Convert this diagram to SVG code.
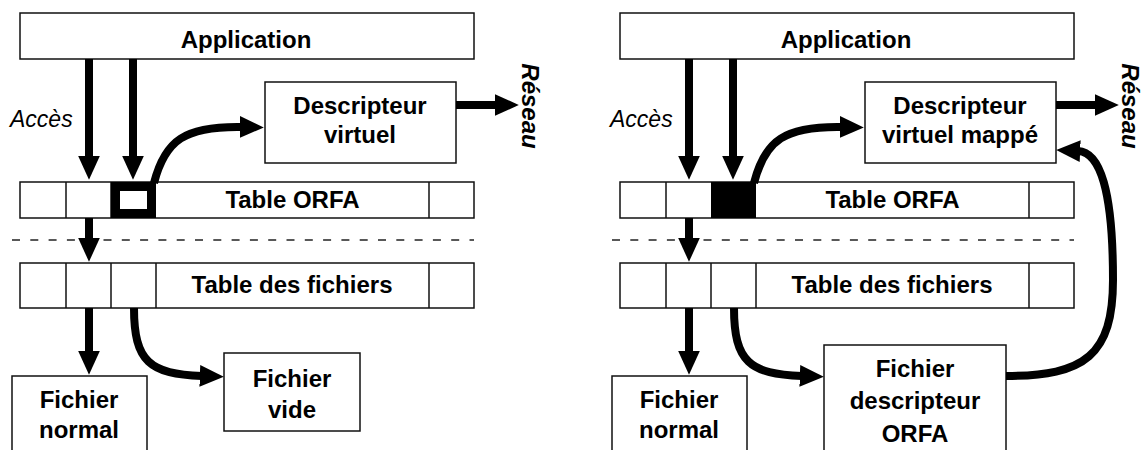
<svg xmlns="http://www.w3.org/2000/svg" width="1142" height="450" viewBox="0 0 1142 450">
<style>
.box{fill:#fff;stroke:#111;stroke-width:1.5}
.b{font-family:"Liberation Sans",Arial,sans-serif;font-weight:bold;font-size:24px;text-anchor:middle;fill:#000}
.it{font-family:"Liberation Sans",Arial,sans-serif;font-style:italic;font-size:23px;fill:#000}
.bi{font-family:"Liberation Sans",Arial,sans-serif;font-style:italic;font-weight:bold;font-size:24px;text-anchor:middle;fill:#000}
.arr{fill:none;stroke:#000;stroke-width:8;marker-end:url(#ah)}
.dash{stroke:#222;stroke-width:1.3;stroke-dasharray:8 10.3}
</style>
<defs>
<marker id="ah" markerUnits="userSpaceOnUse" markerWidth="24" markerHeight="22" viewBox="0 0 22 20" refX="2" refY="10" orient="auto"><path d="M0,0 L22,10 L0,20 z" fill="#000"/></marker>
</defs>

<g id="left">
<g id="app-l"><rect class="box" x="20" y="13" width="454" height="46"/><text class="b" x="246" y="48">Application</text></g>
<g id="desc-l"><rect class="box" x="265" y="82" width="191" height="81"/><text class="b" x="360" y="114">Descripteur</text><text class="b" x="360" y="143">virtuel</text></g>
<g id="reseau-l"><text class="bi" transform="translate(522,106) rotate(90)">Réseau</text></g>
<g id="acces-l"><text class="it" x="10" y="127">Accès</text></g>
<g id="orfa-l">
<rect class="box" x="20" y="182" width="454" height="36"/>
<line x1="66" y1="182" x2="66" y2="218" stroke="#111" stroke-width="1.5"/>
<line x1="111" y1="182" x2="111" y2="218" stroke="#111" stroke-width="1.5"/>
<line x1="429" y1="182" x2="429" y2="218" stroke="#111" stroke-width="1.5"/>
<rect x="115.5" y="186.5" width="36" height="27" fill="#fff" stroke="#000" stroke-width="9"/>
<text class="b" x="292.5" y="208">Table ORFA</text>
</g>
<line class="dash" x1="12" y1="240" x2="474" y2="240"/>
<g id="fich-l">
<rect class="box" x="20" y="263" width="454" height="45"/>
<line x1="66" y1="263" x2="66" y2="308" stroke="#111" stroke-width="1.5"/>
<line x1="111" y1="263" x2="111" y2="308" stroke="#111" stroke-width="1.5"/>
<line x1="156" y1="263" x2="156" y2="308" stroke="#111" stroke-width="1.5"/>
<line x1="429" y1="263" x2="429" y2="308" stroke="#111" stroke-width="1.5"/>
<text class="b" x="292" y="293">Table des fichiers</text>
</g>
<g id="normal-l"><rect class="box" x="12" y="376" width="135" height="100"/><text class="b" x="79" y="408">Fichier</text><text class="b" x="79" y="438">normal</text></g>
<g id="vide-l"><rect class="box" x="224" y="353" width="136" height="78"/><text class="b" x="292" y="387">Fichier</text><text class="b" x="292" y="418">vide</text></g>
</g>

<g id="right">
<g id="app-r"><rect class="box" x="620" y="13" width="454" height="46"/><text class="b" x="846" y="48">Application</text></g>
<g id="desc-r"><rect class="box" x="865" y="82" width="191" height="81"/><text class="b" x="960" y="114">Descripteur</text><text class="b" x="960" y="143">virtuel mappé</text></g>
<g id="reseau-r"><text class="bi" transform="translate(1122,106) rotate(90)">Réseau</text></g>
<g id="acces-r"><text class="it" x="610" y="127">Accès</text></g>
<g id="orfa-r">
<rect class="box" x="620" y="182" width="454" height="36"/>
<line x1="666" y1="182" x2="666" y2="218" stroke="#111" stroke-width="1.5"/>
<line x1="1029" y1="182" x2="1029" y2="218" stroke="#111" stroke-width="1.5"/>
<rect x="711" y="182" width="45" height="36" fill="#000"/>
<text class="b" x="892.5" y="208">Table ORFA</text>
</g>
<line class="dash" x1="612" y1="240" x2="1074" y2="240"/>
<g id="fich-r">
<rect class="box" x="620" y="263" width="454" height="45"/>
<line x1="666" y1="263" x2="666" y2="308" stroke="#111" stroke-width="1.5"/>
<line x1="711" y1="263" x2="711" y2="308" stroke="#111" stroke-width="1.5"/>
<line x1="756" y1="263" x2="756" y2="308" stroke="#111" stroke-width="1.5"/>
<line x1="1029" y1="263" x2="1029" y2="308" stroke="#111" stroke-width="1.5"/>
<text class="b" x="892" y="293">Table des fichiers</text>
</g>
<g id="normal-r"><rect class="box" x="612" y="376" width="135" height="100"/><text class="b" x="679" y="408">Fichier</text><text class="b" x="679" y="438">normal</text></g>
<g id="orfafile-r"><rect class="box" x="824" y="345" width="182" height="120"/><text class="b" x="915" y="377">Fichier</text><text class="b" x="915" y="409">descripteur</text><text class="b" x="915" y="442">ORFA</text></g>
</g>

<g id="connectors">
<path class="arr" d="M89,59 V158"/>
<path class="arr" d="M133,59 V158"/>
<path class="arr" d="M154,183 C165,140 185,126 242,127"/>
<path class="arr" d="M456,105 H497"/>
<path class="arr" d="M89,218 V240"/>
<path class="arr" d="M89,308 V353"/>
<path class="arr" d="M134,308 C134,362 150,374 202,376"/>

<path class="arr" d="M689,59 V158"/>
<path class="arr" d="M733,59 V158"/>
<path class="arr" d="M754,183 C765,140 785,126 842,127"/>
<path class="arr" d="M1056,105 H1097"/>
<path class="arr" d="M689,218 V240"/>
<path class="arr" d="M689,308 V353"/>
<path class="arr" d="M734,308 C734,362 750,374 802,376"/>
<path class="arr" d="M1006,376 C1085,376 1113,355 1113,280 C1113,190 1100,152 1078,151"/>
</g>
</svg>
